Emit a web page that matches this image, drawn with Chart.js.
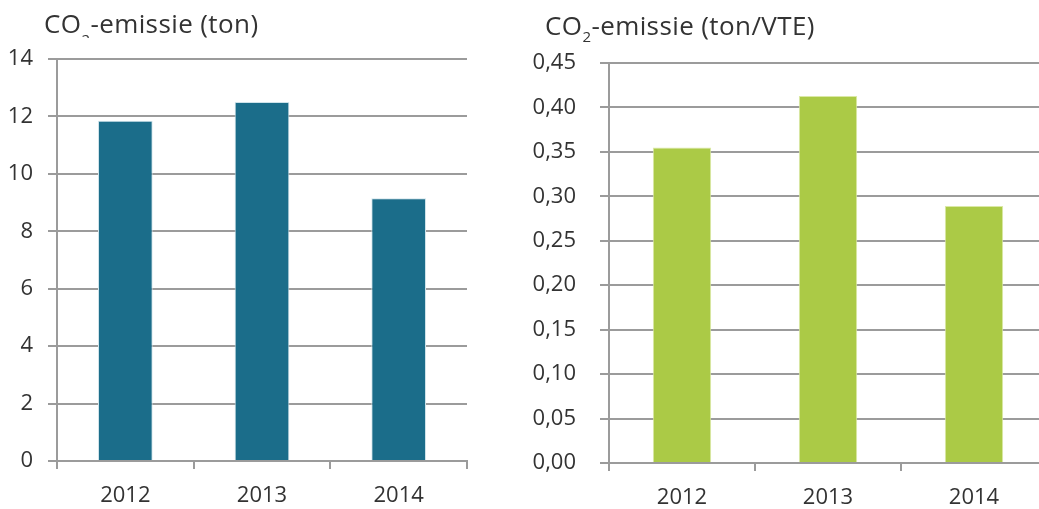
<!DOCTYPE html>
<html>
<head>
<meta charset="utf-8">
<script src="https://cdn.jsdelivr.net/npm/chart.js@4/dist/chart.umd.min.js"></script>
<style>
  html, body { margin: 0; padding: 0; background: #fff; }
  body { width: 1039px; height: 509px; position: relative; overflow: hidden;
         font-family: "Open Sans", sans-serif; color: #333; }
  .panel { position: absolute; top: 0; height: 509px; overflow: hidden; }
  #leftPanel { left: 0; width: 520px; }
  #rightPanel { left: 520px; width: 519px; }
  .title { position: absolute; font-size: 26px; line-height: 1; white-space: nowrap;
           color: #333; letter-spacing: 0.4px; }
  .title sub { font-size: 15px; line-height: 0; vertical-align: -7px; }
  #leftTitle { left: 44px; top: 10px; height: 28px; overflow: hidden; }
  #leftTitle sub { vertical-align: -12px; }
  #rightTitle { left: 545px; top: 12px; }
</style>
</head>
<body>
<div class="panel" id="leftPanel"><canvas id="tonChart" width="520" height="509"></canvas></div>
<div class="panel" id="rightPanel"><canvas id="fteChart" width="540" height="509"></canvas></div>
<div class="title" id="leftTitle">CO<sub>2</sub>-emissie (ton)</div>
<div class="title" id="rightTitle">CO<sub>2</sub>-emissie (ton/VTE)</div>
<script>
// Years on the category axis
const years = ['2012', '2013', '2014'];
// CO2 emission in tonnes
const emissionTon = [11.85, 12.5, 9.15];
// CO2 emission in tonnes per FTE (VTE)
const emissionPerFte = [0.355, 0.413, 0.289];
// Value axis ranges
const tonAxis = { min: 0, max: 14, step: 2 };
const fteAxis = { min: 0, max: 0.45, step: 0.05 };

const gridGrey = '#9b9b9b';
const textGrey = '#333333';
const tickFont = { family: '"Open Sans", sans-serif', size: 22 };

function makeChart(canvasId, values, axis, opts) {
  return new Chart(document.getElementById(canvasId), {
    type: 'bar',
    data: {
      labels: years,
      datasets: [{
        data: values,
        backgroundColor: opts.fill,
        borderColor: opts.edge,
        borderWidth: 1,
        categoryPercentage: 1,
        barPercentage: 0.4
      }]
    },
    options: {
      responsive: false,
      animation: false,
      layout: { padding: { left: 0, right: opts.padRight, top: opts.padTop, bottom: 0 } },
      plugins: { legend: { display: false }, tooltip: { enabled: false } },
      scales: {
        x: {
          afterFit: (s) => { s.height = opts.xHeight; },
          grid: { drawOnChartArea: false, color: gridGrey, lineWidth: 2, tickLength: 8, offset: true },
          border: { display: true, color: gridGrey, width: 2 },
          ticks: { color: textGrey, font: tickFont, padding: 14 }
        },
        y: {
          min: axis.min,
          max: axis.max,
          afterFit: (s) => { s.width = opts.yWidth; },
          grid: { color: gridGrey, lineWidth: 2, tickLength: 9 },
          border: { display: true, color: gridGrey, width: 2 },
          ticks: {
            stepSize: axis.step,
            color: textGrey,
            font: tickFont,
            padding: opts.labelGap,
            callback: opts.format
          }
        }
      }
    }
  });
}

makeChart('tonChart', emissionTon, tonAxis, {
  fill: '#1b6d8a', edge: '#cfe3ea',
  padRight: 53, padTop: 59, xHeight: 48, yWidth: 57, labelGap: 15,
  format: (v) => String(v)
});

makeChart('fteChart', emissionPerFte, fteAxis, {
  fill: '#abca46', edge: '#dbe9a6',
  padRight: 13, padTop: 63, xHeight: 46, yWidth: 89, labelGap: 24,
  format: (v) => v.toFixed(2).replace('.', ',')
});
</script>
</body>
</html>
